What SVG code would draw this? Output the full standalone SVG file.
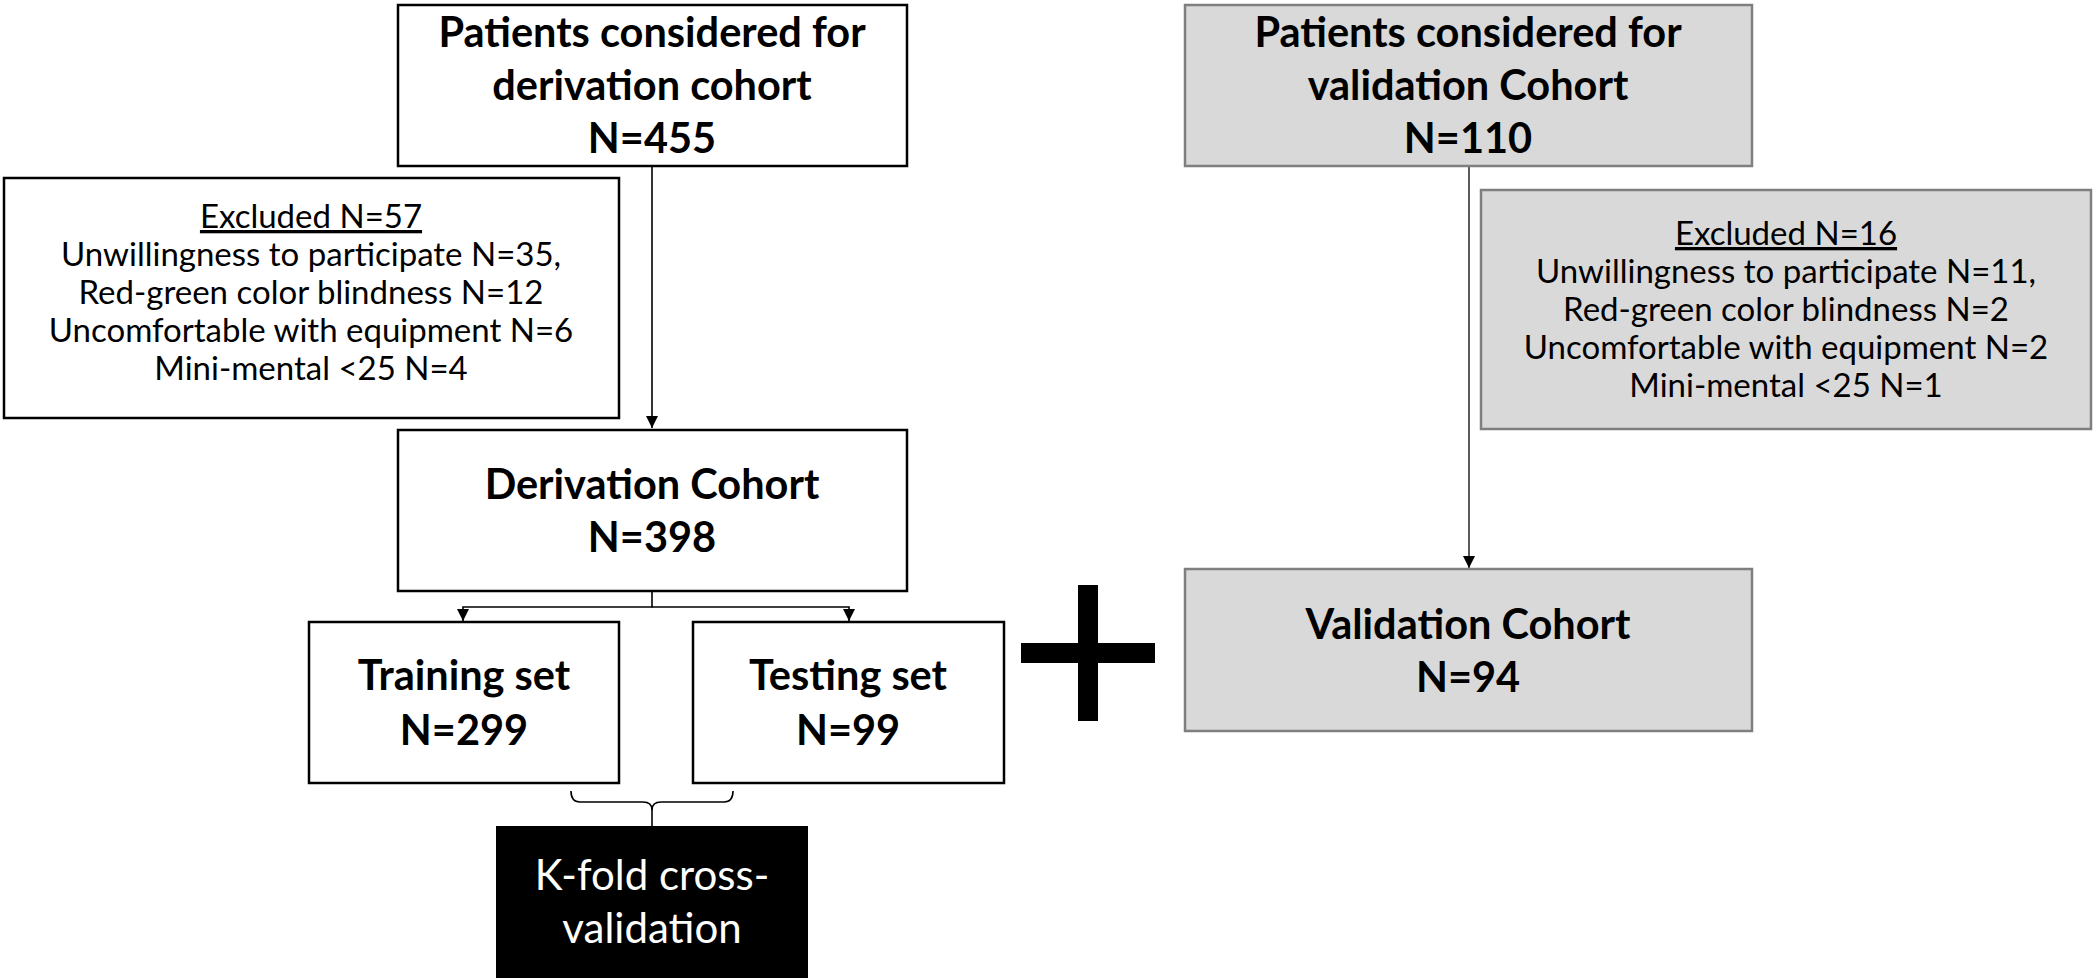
<svg xmlns="http://www.w3.org/2000/svg" width="2100" height="979" viewBox="0 0 2100 979">
<defs>
<style>
.box{fill:#fff;stroke:#000;stroke-width:2.5}
.gbox{fill:#d9d9d9;stroke:#7f7f7f;stroke-width:2.5}
.b{font-family:Lato,"Liberation Sans",sans-serif;font-weight:bold;font-size:41.5px;fill:#000;text-anchor:middle}
.r{font-family:Lato,"Liberation Sans",sans-serif;font-size:33px;fill:#000;text-anchor:middle}
.w{font-family:Lato,"Liberation Sans",sans-serif;font-size:42px;fill:#fff;text-anchor:middle}
.u{text-decoration:underline}
.ln{fill:none;stroke:#000;stroke-width:1.6}
.gln{fill:none;stroke:#333;stroke-width:1.6}
</style>
<marker id="ah" markerWidth="12" markerHeight="12" viewBox="0 0 12 12" refX="12" refY="6" orient="auto" markerUnits="userSpaceOnUse">
<path d="M0,0 L12,6 L0,12 Z" fill="#000"/>
</marker>
</defs>
<rect width="2100" height="979" fill="#fff"/>
<g id="connectors">
<line class="ln" x1="652" y1="166" x2="652" y2="428" marker-end="url(#ah)"/>
<polyline class="ln" points="652,591 652,607 463,607 463,621" marker-end="url(#ah)"/>
<polyline class="ln" points="652,607 849,607 849,621" marker-end="url(#ah)"/>
<line class="gln" x1="1469" y1="166" x2="1469" y2="568" marker-end="url(#ah)"/>
<path class="ln" d="M571,791 Q571,802 580,802 L643,802 Q652,802 652,810 Q652,802 661,802 L724,802 Q733,802 733,791"/>
<line class="ln" x1="652" y1="808" x2="652" y2="826"/>
</g>
<g id="derivation-considered">
<rect class="box" x="398" y="5" width="509" height="161"/>
<text class="b" x="652" y="47">Patients considered for</text>
<text class="b" x="652" y="100">derivation cohort</text>
<text class="b" x="652" y="153">N=455</text>
</g>
<g id="excluded-derivation">
<rect class="box" x="4" y="178" width="615" height="240"/>
<text class="r u" x="311" y="228">Excluded N=57</text>
<text class="r" x="311" y="266">Unwillingness to participate N=35,</text>
<text class="r" x="311" y="304">Red-green color blindness N=12</text>
<text class="r" x="311" y="342">Uncomfortable with equipment N=6</text>
<text class="r" x="311" y="380">Mini-mental &lt;25 N=4</text>
</g>
<g id="derivation-cohort">
<rect class="box" x="398" y="430" width="509" height="161"/>
<text class="b" x="652" y="499">Derivation Cohort</text>
<text class="b" x="652" y="552">N=398</text>
</g>
<g id="training-set">
<rect class="box" x="309" y="622" width="310" height="161"/>
<text class="b" x="464" y="690">Training set</text>
<text class="b" x="464" y="745">N=299</text>
</g>
<g id="testing-set">
<rect class="box" x="693" y="622" width="311" height="161"/>
<text class="b" x="848" y="690">Testing set</text>
<text class="b" x="848" y="745">N=99</text>
</g>
<g id="kfold">
<rect x="496" y="826" width="312" height="152" fill="#000"/>
<text class="w" x="652" y="890">K-fold cross-</text>
<text class="w" x="652" y="943">validation</text>
</g>
<g id="plus">
<rect x="1078" y="585" width="20" height="136" fill="#000"/>
<rect x="1021" y="643" width="134" height="20" fill="#000"/>
</g>
<g id="validation-considered">
<rect class="gbox" x="1185" y="5" width="567" height="161"/>
<text class="b" x="1468" y="47">Patients considered for</text>
<text class="b" x="1468" y="100">validation Cohort</text>
<text class="b" x="1468" y="153">N=110</text>
</g>
<g id="excluded-validation">
<rect class="gbox" x="1481" y="190" width="610" height="239"/>
<text class="r u" x="1786" y="245">Excluded N=16</text>
<text class="r" x="1786" y="283">Unwillingness to participate N=11,</text>
<text class="r" x="1786" y="321">Red-green color blindness N=2</text>
<text class="r" x="1786" y="359">Uncomfortable with equipment N=2</text>
<text class="r" x="1786" y="397">Mini-mental &lt;25 N=1</text>
</g>
<g id="validation-cohort">
<rect class="gbox" x="1185" y="569" width="567" height="162"/>
<text class="b" x="1468" y="639">Validation Cohort</text>
<text class="b" x="1468" y="692">N=94</text>
</g>
</svg>
